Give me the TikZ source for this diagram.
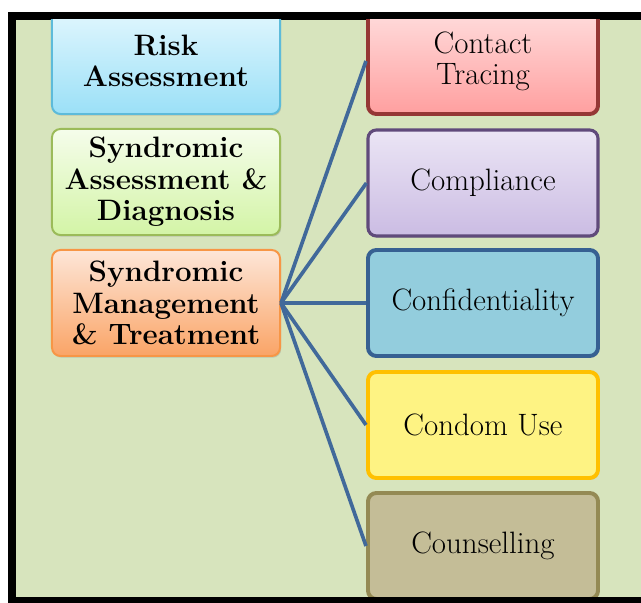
\documentclass[tikz,border=0pt]{standalone}
\definecolor{bggreen}{HTML}{D7E4BD}
\definecolor{linkblue}{HTML}{41699A}
\definecolor{riskdraw}{HTML}{5DBBDA}
\definecolor{risktop}{HTML}{E2F7FE}
\definecolor{riskbot}{HTML}{9BE0F7}
\definecolor{diagdraw}{HTML}{9BBB59}
\definecolor{diagtop}{HTML}{F5FDEB}
\definecolor{diagbot}{HTML}{D3F4A6}
\definecolor{mgmtdraw}{HTML}{F79646}
\definecolor{mgmttop}{HTML}{FDE6D8}
\definecolor{mgmtbot}{HTML}{FAA466}
\definecolor{tracedraw}{HTML}{953735}
\definecolor{tracetop}{HTML}{FFDEDE}
\definecolor{tracebot}{HTML}{FF9F9F}
\definecolor{compdraw}{HTML}{604A7B}
\definecolor{comptop}{HTML}{EBE5F5}
\definecolor{compbot}{HTML}{CBBCE3}
\definecolor{confdraw}{HTML}{376092}
\definecolor{conffill}{HTML}{93CDDD}
\definecolor{condraw}{HTML}{FFC000}
\definecolor{confill}{HTML}{FEF383}
\definecolor{coundraw}{HTML}{948A54}
\definecolor{counfill}{HTML}{C4BD97}
\usepackage{tikz}
\usetikzlibrary{shadows}

\begin{document}
\begin{tikzpicture}[x=0.025cm, y=-0.025cm,
    lbox/.style={draw, rounded corners=6pt, line width=1.4pt,
      minimum width=5.7cm, minimum height=2.65cm, align=center,
      font=\fontsize{21}{22.5}\selectfont\bfseries,
      drop shadow={shadow xshift=0.8pt, shadow yshift=-1.2pt, opacity=0.3}},
    rbox/.style={draw, rounded corners=6pt, line width=2.8pt,
      minimum width=5.75cm, minimum height=2.65cm, align=center,
      font=\fontsize{22}{22}\selectfont,
      drop shadow={shadow xshift=0.8pt, shadow yshift=-1.2pt, opacity=0.3}},
    link/.style={draw=linkblue, line width=2.6pt}]
  \useasboundingbox (0,0) rectangle (641,603);
  % Frame and background
  \fill[black] (8,12) rectangle (641,603);
  \fill[bggreen] (16,20) rectangle (641,597);
  \begin{scope}
    \clip (16,20) rectangle (641,597);
    % Left column
    \node[lbox, draw=riskdraw, top color=risktop, bottom color=riskbot]
      (risk) at (166,61) {Risk\\Assessment};
    \node[lbox, draw=diagdraw, top color=diagtop, bottom color=diagbot]
      (diag) at (166,182) {Syndromic\\Assessment \&\\Diagnosis};
    \node[lbox, draw=mgmtdraw, top color=mgmttop, bottom color=mgmtbot]
      (mgmt) at (166,303) {Syndromic\\Management\\\& Treatment};
    % Right column
    \node[rbox, draw=tracedraw, top color=tracetop, bottom color=tracebot]
      (trace) at (483,61) {Contact\\Tracing};
    \node[rbox, line width=2.2pt, draw=compdraw, top color=comptop,
      bottom color=compbot] (comp) at (483,183) {Compliance};
    \node[rbox, draw=confdraw, fill=conffill]
      (conf) at (483,303) {Confidentiality};
    \node[rbox, draw=condraw, fill=confill]
      (condom) at (483,425) {Condom Use};
    \node[rbox, draw=coundraw, fill=counfill]
      (couns) at (483,546) {Counselling};
  \end{scope}
  % Links
  \foreach \t in {trace, comp, conf, condom, couns}
    \draw[link] (mgmt.east) -- (\t.west);
\end{tikzpicture}
\end{document}
